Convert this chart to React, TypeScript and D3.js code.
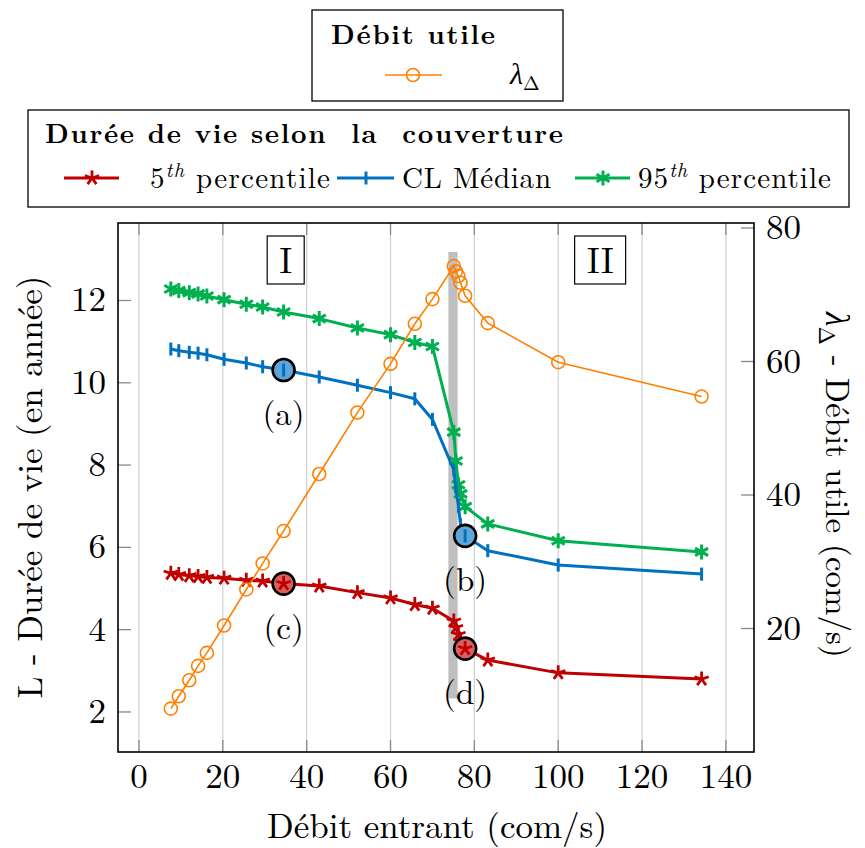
import React from 'react';
import * as d3 from 'd3';

// ---- data ----
const xIn = [7.6, 9.5, 12.0, 14.1, 16.2, 20.3, 25.6, 29.5, 34.5, 43.0, 52.1, 60.0, 65.8, 70.0, 75.1, 75.6, 76.2, 76.7, 77.8, 83.2, 100.0, 134.2];
const lambda = [8.0, 9.85, 12.25, 14.4, 16.35, 20.45, 25.85, 29.75, 34.6, 43.15, 52.35, 59.65, 65.65, 69.35, 74.3, 73.5, 72.8, 71.8, 69.85, 65.75, 59.9, 54.75];
const p5 = [5.37, 5.34, 5.31, 5.29, 5.27, 5.25, 5.2, 5.18, 5.12, 5.06, 4.9, 4.77, 4.61, 4.52, 4.21, 4.05, 3.88, 3.72, 3.54, 3.26, 2.95, 2.8];
const median = [10.82, 10.78, 10.74, 10.72, 10.68, 10.57, 10.48, 10.39, 10.31, 10.14, 9.94, 9.76, 9.61, 9.11, 7.88, 7.45, 7.0, 6.55, 6.28, 5.92, 5.57, 5.35];
const p95 = [12.28, 12.24, 12.19, 12.16, 12.11, 12.02, 11.91, 11.84, 11.72, 11.56, 11.33, 11.17, 10.98, 10.88, 8.8, 8.1, 7.52, 7.3, 6.99, 6.57, 6.16, 5.89];

const xTicks = [0, 20, 40, 60, 80, 100, 120, 140];
const yLeftTicks = [2, 4, 6, 8, 10, 12];
const yRightTicks = [20, 40, 60, 80];

const highlightIdx = [8, 18];
const annotMedian = ['(a)', '(b)'];
const annotP5 = ['(c)', '(d)'];
const regions = [
  { label: 'I', x: 35 },
  { label: 'II', x: 110 },
];
const bandX = [73.8, 76.0];
const bandY = [2.33, 13.18];

const RED = '#C00000';
const BLUE = '#0070C0';
const GREEN = '#00B050';
const ORANGE = '#FF8000';
const LM = '"Latin Modern Roman", "Liberation Serif", serif';

const f = (size: number, extra: React.CSSProperties = {}): React.CSSProperties => ({
  fontFamily: LM,
  fontSize: size,
  ...extra,
});

function starPath(cx: number, cy: number, r: number) {
  let d = '';
  for (let k = 0; k < 5; k++) {
    const a = -Math.PI / 2 + (k * 2 * Math.PI) / 5;
    d += `M${cx},${cy}L${cx + r * Math.cos(a)},${cy + r * Math.sin(a)}`;
  }
  return d;
}
function asteriskPath(cx: number, cy: number, r: number) {
  let d = '';
  for (let k = 0; k < 3; k++) {
    const a = Math.PI / 2 + (k * Math.PI) / 3;
    d += `M${cx - r * Math.cos(a)},${cy - r * Math.sin(a)}L${cx + r * Math.cos(a)},${cy + r * Math.sin(a)}`;
  }
  return d;
}
function barPath(cx: number, cy: number, r: number) {
  return `M${cx},${cy - r}L${cx},${cy + r}`;
}

export default function App() {
  const W = 865, H = 848;
  const L = 118, R = 754, T = 223, B = 752;
  const x = d3.scaleLinear().domain([-5, 146.7]).range([L, R]);
  const yL = d3.scaleLinear().domain([1.027, 13.883]).range([B, T]);
  const yR = d3.scaleLinear().domain([1.5, 80.75]).range([B, T]);

  const lineL = d3.line<number>().x((_, i) => x(xIn[i])).y((d) => yL(d));
  const lineR = d3.line<number>().x((_, i) => x(xIn[i])).y((d) => yR(d));

  const series = [
    { vals: p95, color: GREEN, mark: (cx: number, cy: number) => asteriskPath(cx, cy, 7.5), mw: 3 },
    { vals: median, color: BLUE, mark: (cx: number, cy: number) => barPath(cx, cy, 6.5), mw: 3 },
    { vals: p5, color: RED, mark: (cx: number, cy: number) => starPath(cx, cy, 7.5), mw: 2.8 },
  ];

  return (
    <svg width={W} height={H} style={{ position: 'absolute', left: 0, top: 0, background: '#fff' }}>
      <rect x={0} y={0} width={W} height={H} fill="#fff" />
      {/* grid */}
      {xTicks.map((t) => (
        <line key={'g' + t} x1={x(t)} x2={x(t)} y1={B} y2={T} stroke="#cfcfcf" strokeWidth={1.2} />
      ))}
      {xTicks.map((t) => (
        <g key={'xt' + t}>
          <line x1={x(t)} x2={x(t)} y1={B} y2={B - 12} stroke="#8a8a8a" strokeWidth={1.3} />
          <line x1={x(t)} x2={x(t)} y1={T} y2={T + 12} stroke="#8a8a8a" strokeWidth={1.3} />
          <text x={x(t)} y={788} textAnchor="middle" style={f(35)} fill="#000">{t}</text>
        </g>
      ))}
      {yLeftTicks.map((t) => (
        <g key={'yl' + t}>
          <line x1={L} x2={L + 13} y1={yL(t)} y2={yL(t)} stroke="#8a8a8a" strokeWidth={1.3} />
          <text x={106} y={yL(t) + 11} textAnchor="end" style={f(35)} fill="#000">{t}</text>
        </g>
      ))}
      {yRightTicks.map((t) => (
        <g key={'yr' + t}>
          <line x1={R} x2={R - 13} y1={yR(t)} y2={yR(t)} stroke="#8a8a8a" strokeWidth={1.3} />
          <text x={766} y={yR(t) + 11} textAnchor="start" style={f(35)} fill="#000">{t}</text>
        </g>
      ))}

      {/* transition band */}
      <rect x={x(bandX[0])} y={yL(bandY[1])} width={x(bandX[1]) - x(bandX[0])} height={yL(bandY[0]) - yL(bandY[1])} fill="#bfbfbf" />

      {/* lifetime series */}
      {series.map((s, si) => (
        <g key={'s' + si}>
          <path d={lineL(s.vals) || ''} fill="none" stroke={s.color} strokeWidth={3} strokeLinejoin="round" />
          {s.vals.map((v, i) => (
            <path key={i} d={s.mark(x(xIn[i]), yL(v))} stroke={s.color} strokeWidth={s.mw} fill="none" />
          ))}
        </g>
      ))}

      {/* useful throughput */}
      <path d={lineR(lambda) || ''} fill="none" stroke={ORANGE} strokeWidth={1.6} />
      {lambda.map((v, i) => (
        <circle key={'o' + i} cx={x(xIn[i])} cy={yR(v)} r={6.5} fill="none" stroke={ORANGE} strokeWidth={1.6} />
      ))}

      {/* highlighted points */}
      {highlightIdx.map((idx, k) => (
        <g key={'hm' + k}>
          <circle cx={x(xIn[idx])} cy={yL(median[idx])} r={11} fill="#5fa5da" stroke="#000" strokeWidth={2.6} />
          <path d={barPath(x(xIn[idx]), yL(median[idx]), 6.5)} stroke={BLUE} strokeWidth={3} />
          <text x={x(xIn[idx])} y={yL(median[idx]) + 55} textAnchor="middle" style={f(33)} fill="#000">{annotMedian[k]}</text>
          <circle cx={x(xIn[idx])} cy={yL(p5[idx])} r={11} fill="#d9605f" stroke="#000" strokeWidth={2.6} />
          <path d={starPath(x(xIn[idx]), yL(p5[idx]), 7.5)} stroke={RED} strokeWidth={2.8} />
          <text x={x(xIn[idx])} y={yL(p5[idx]) + 55} textAnchor="middle" style={f(33)} fill="#000">{annotP5[k]}</text>
        </g>
      ))}

      {/* region labels */}
      {regions.map((r) => {
        const w = r.label.length > 1 ? 51 : 37;
        return (
          <g key={r.label}>
            <rect x={x(r.x) - w / 2} y={236} width={w} height={48} fill="#fff" stroke="#000" strokeWidth={1.2} />
            <text x={x(r.x)} y={273} textAnchor="middle" style={f(36)} fill="#000">{r.label}</text>
          </g>
        );
      })}

      {/* frame */}
      <rect x={L} y={T} width={R - L} height={B - T} fill="none" stroke="#000" strokeWidth={1.6} />

      {/* axis titles */}
      <text x={437} y={838} textAnchor="middle" style={f(35)} fill="#000">Débit entrant (com/s)</text>
      <text transform="translate(42,487) rotate(-90)" textAnchor="middle" style={f(35)} fill="#000">L - Durée de vie (en année)</text>
      <text transform="translate(826,485) rotate(90)" textAnchor="middle" style={f(33)} fill="#000">
        <tspan style={{ fontStyle: 'italic' }}>λ</tspan>
        <tspan style={{ fontSize: 22 }} dy={7}>Δ</tspan>
        <tspan dy={-7}> - Débit utile (com/s)</tspan>
      </text>

      {/* legend 1 */}
      <rect x={312} y={10} width={251} height={91} fill="#fff" stroke="#000" strokeWidth={1.3} />
      <text x={331} y={44} style={f(27, { fontWeight: 'bold' })} fill="#000" textLength={164} lengthAdjust="spacing">Débit utile</text>
      <line x1={385} x2={442} y1={75} y2={75} stroke={ORANGE} strokeWidth={1.6} />
      <circle cx={413} cy={75} r={6.5} fill="none" stroke={ORANGE} strokeWidth={1.6} />
      <text x={510} y={84} style={f(30)} fill="#000">
        <tspan style={{ fontStyle: 'italic' }}>λ</tspan>
        <tspan style={{ fontSize: 20 }} dy={6}>Δ</tspan>
      </text>

      {/* legend 2 */}
      <rect x={28} y={110} width={821} height={97} fill="#fff" stroke="#000" strokeWidth={1.3} />
      <text x={45} y={143} style={f(27, { fontWeight: 'bold', whiteSpace: 'pre' })} fill="#000" textLength={518} lengthAdjust="spacing">Durée de vie selon  la  couverture</text>
      <line x1={64} x2={119} y1={178} y2={178} stroke={RED} strokeWidth={3} />
      <path d={starPath(92, 178, 7.5)} stroke={RED} strokeWidth={2.8} />
      <text x={150} y={188} style={f(29)} fill="#000" textLength={180} lengthAdjust="spacing">
        5<tspan style={{ fontStyle: 'italic', fontSize: 20 }} dy={-11}>th</tspan><tspan dy={11}> percentile</tspan>
      </text>
      <line x1={337} x2={394} y1={178} y2={178} stroke={BLUE} strokeWidth={3} />
      <path d={barPath(366, 178, 6.5)} stroke={BLUE} strokeWidth={3} />
      <text x={402} y={188} style={f(29)} fill="#000" textLength={149} lengthAdjust="spacing">CL Médian</text>
      <line x1={575} x2={630} y1={178} y2={178} stroke={GREEN} strokeWidth={3} />
      <path d={asteriskPath(603, 178, 7.5)} stroke={GREEN} strokeWidth={3} />
      <text x={638} y={188} style={f(29)} fill="#000" textLength={193} lengthAdjust="spacing">
        95<tspan style={{ fontStyle: 'italic', fontSize: 20 }} dy={-11}>th</tspan><tspan dy={11}> percentile</tspan>
      </text>
    </svg>
  );
}
